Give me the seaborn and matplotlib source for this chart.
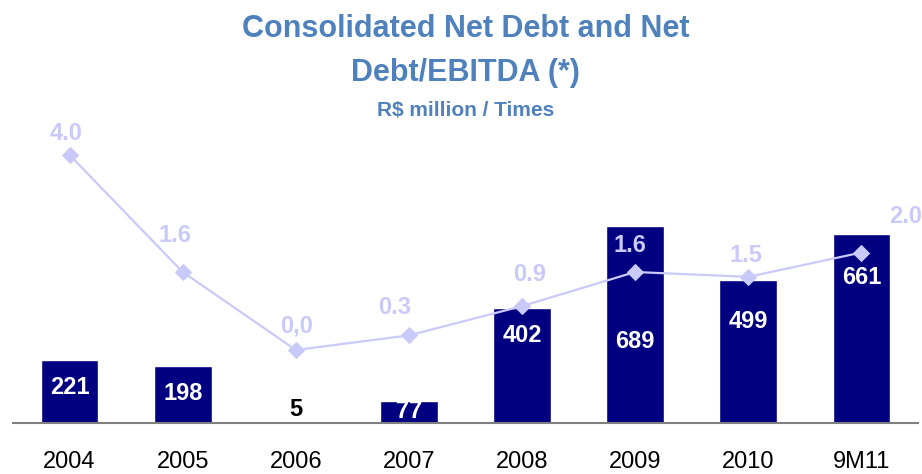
import numpy as np
import pandas as pd
import matplotlib
matplotlib.use("Agg")
import matplotlib.pyplot as plt
from matplotlib import font_manager
import seaborn as sns


# ==========================================
# DATA
# ==========================================

periods = ["2004", "2005", "2006", "2007", "2008", "2009", "2010", "9M11"]

net_debt = [221, 198, 5, 77, 402, 689, 499, 661]

debt_ebitda = [4.0, 1.6, 0.0, 0.3, 0.9, 1.6, 1.5, 2.0]

ratio_labels = ["4.0", "1.6", "0,0", "0.3", "0.9", "1.6", "1.5", "2.0"]


# ==========================================
# STYLE
# ==========================================

sns.set_style("white")

available = {f.name for f in font_manager.fontManager.ttflist}
narrow = "Liberation Sans Narrow" if "Liberation Sans Narrow" in available else "Liberation Sans"
plt.rcParams["font.family"] = [narrow, "DejaVu Sans"]

BAR_COLOR = "#000080"
LINE_COLOR = "#cacafa"
TITLE_COLOR = "#4f81bd"

# label nudges in pixels (bar labels: height above baseline; ratio labels: dx, dy)
bar_label_rise = [35, 30, 13, 11, 87, 81, 101, 146]
ratio_label_shift = [(-4, 22), (-8, 37), (1, 24), (-14, 28),
                     (7, 32), (-5, 27), (-2, 21), (44, 36)]


# ==========================================
# FIGURE
# ==========================================

fig = plt.figure(figsize=(9.22, 4.74), dpi=100)

ax = fig.add_axes([13 / 922, 51 / 474, 905 / 922, 303 / 474])

df = pd.DataFrame({"period": periods, "debt": net_debt})

sns.barplot(
    data=df,
    x="period",
    y="debt",
    color=BAR_COLOR,
    saturation=1,
    width=0.51,
    ax=ax
)

ax.set_xlim(-0.5, 7.5)
ax.set_ylim(0, 1060)

for spine in ["top", "right", "left"]:
    ax.spines[spine].set_visible(False)

ax.spines["bottom"].set_color("#808080")
ax.spines["bottom"].set_linewidth(1.5)

ax.set_yticks([])
ax.set_xlabel("")
ax.set_ylabel("")
ax.tick_params(axis="x", length=0, pad=20, labelsize=17, colors="black")

# bar value labels
px_per_unit = 303 / 1060
for i, value in enumerate(net_debt):
    ax.text(
        i,
        bar_label_rise[i] / px_per_unit,
        str(value),
        ha="center",
        va="center",
        fontsize=17,
        fontweight="bold",
        color="black" if value < 20 else "white"
    )


# ==========================================
# RATIO LINE
# ==========================================

ax2 = ax.twinx()

sns.lineplot(
    x=np.arange(len(periods)),
    y=debt_ebitda,
    color=LINE_COLOR,
    marker="D",
    markersize=8,
    markeredgecolor=LINE_COLOR,
    linewidth=1.6,
    ax=ax2
)

ax2.set_ylim(-73 / 48.75, 230 / 48.75)
ax2.set_yticks([])
ax2.set_ylabel("")
for spine in ax2.spines.values():
    spine.set_visible(False)

for i, value in enumerate(debt_ebitda):
    dx, dy = ratio_label_shift[i]
    ax2.annotate(
        ratio_labels[i],
        (i, value),
        xytext=(dx, dy),
        textcoords="offset pixels",
        ha="center",
        va="center",
        fontsize=17,
        fontweight="bold",
        color=LINE_COLOR,
        annotation_clip=False
    )


# ==========================================
# TITLES
# ==========================================

fig.text(0.505, 1 - 29 / 474, "Consolidated Net Debt and Net",
         ha="center", va="center", fontsize=22, fontweight="bold", color=TITLE_COLOR)

fig.text(0.505, 1 - 73 / 474, "Debt/EBITDA (*)",
         ha="center", va="center", fontsize=22, fontweight="bold", color=TITLE_COLOR)

fig.text(0.505, 1 - 111 / 474, "R$ million / Times",
         ha="center", va="center", fontsize=15, fontweight="bold", color=TITLE_COLOR)

fig.savefig("out.png", dpi=100)
